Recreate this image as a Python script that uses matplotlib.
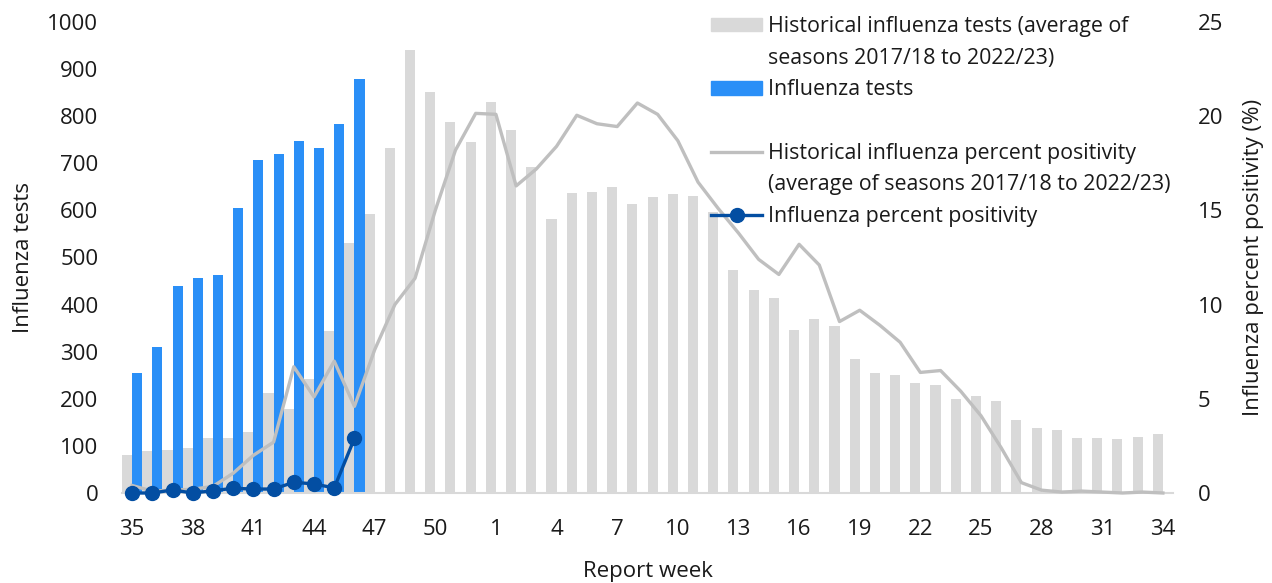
import numpy as np
import matplotlib
matplotlib.use("Agg")
import matplotlib.pyplot as plt
from matplotlib.patches import Patch
from matplotlib.lines import Line2D

plt.rcParams['font.family'] = ['Open Sans', 'DejaVu Sans']
plt.rcParams['font.size'] = 16
plt.rcParams['text.color'] = '#1a1a1a'
plt.rcParams['axes.labelcolor'] = '#1a1a1a'
plt.rcParams['xtick.color'] = '#1a1a1a'
plt.rcParams['ytick.color'] = '#1a1a1a'

# report weeks 35..52 then 1..34
weeks = list(range(35, 53)) + list(range(1, 35))

hist_tests = [80, 90, 92, 96, 117, 116, 130, 212, 178, 243, 344, 531,
              592, 733, 940, 852, 788, 746, 831, 770, 693, 581, 637, 639,
              650, 614, 629, 635, 631, 597, 473, 430, 415, 346, 369, 355,
              284, 255, 250, 234, 229, 199, 207, 195, 155, 139, 134, 117,
              117, 115, 119, 125]

cur_tests = [254, 311, 439, 456, 462, 606, 706, 720, 747, 732, 783, 878]

hist_pos = [0.4, 0.1, 0.15, 0.2, 0.35, 1.05, 2.0, 2.7, 6.7, 5.1, 7.0, 4.6,
            7.6, 10.0, 11.4, 15.0, 18.2, 20.15, 20.1, 16.3, 17.2, 18.4, 20.05, 19.6,
            19.45, 20.7, 20.1, 18.7, 16.5, 15.1, 13.8, 12.4, 11.6, 13.2, 12.1, 9.1,
            9.7, 8.9, 8.0, 6.4, 6.5, 5.4, 4.1, 2.4, 0.55, 0.15,
            0.05, 0.1, 0.05, 0.0, 0.05, 0.0]

cur_pos = [0.0, 0.0, 0.16, 0.0, 0.12, 0.25, 0.21, 0.21, 0.57, 0.48, 0.27, 2.9]

GREY_BAR = '#d9d9d9'
BLUE_BAR = '#2a8ff7'
GREY_LINE = '#bfbfbf'
DARK_BLUE = '#034ea2'

x = np.arange(len(weeks))
xc = np.arange(len(cur_tests))

fig = plt.figure(figsize=(12.72, 5.83), dpi=100)
ax = fig.add_axes([122 / 1272, 1 - 493 / 583, 1051 / 1272, 471 / 583])

ax.bar(x - 0.25, hist_tests, width=0.5, color=GREY_BAR, zorder=2)
ax.bar(xc + 0.25, cur_tests, width=0.5, color=BLUE_BAR, zorder=2)

ax.set_xlim(-0.5, len(weeks) - 0.5)
ax.set_ylim(0, 1000)
ax.set_yticks(range(0, 1001, 100))
ax.set_xticks(x[::3])
ax.set_xticklabels([str(w) for w in weeks[::3]])
ax.tick_params(axis='both', length=0)
ax.tick_params(axis='y', pad=17)
ax.tick_params(axis='x', pad=19)
for s in ['top', 'left', 'right']:
    ax.spines[s].set_visible(False)
ax.spines['bottom'].set_color(GREY_BAR)
ax.spines['bottom'].set_linewidth(1.5)
ax.set_ylabel('Influenza tests', labelpad=10)
ax.set_xlabel('Report week', labelpad=15)

ax2 = ax.twinx()
ax2.plot(x, hist_pos, color=GREY_LINE, lw=2.4, zorder=3, clip_on=False)
ax2.plot(xc, cur_pos, color=DARK_BLUE, lw=2.4, marker='o', markersize=10,
         zorder=4, clip_on=False)
ax2.set_ylim(0, 25)
ax2.set_yticks(range(0, 26, 5))
ax2.tick_params(axis='y', length=0, pad=18)
for s in ['top', 'left', 'right', 'bottom']:
    ax2.spines[s].set_visible(False)
ax2.set_ylabel('Influenza percent positivity (%)', labelpad=14)

# one legend row per text line so handles sit on the first line
blank = Line2D([], [], color='none')
handles = [
    Patch(color=GREY_BAR), blank,
    Patch(color=BLUE_BAR),
    blank,
    Line2D([], [], color=GREY_LINE, lw=2.4), blank,
    Line2D([], [], color=DARK_BLUE, lw=2.4, marker='o', markersize=10),
]
labels = [
    'Historical influenza tests (average of', 'seasons 2017/18 to 2022/23)',
    'Influenza tests',
    ' ',
    'Historical influenza percent positivity', '(average of seasons 2017/18 to 2022/23)',
    'Influenza percent positivity',
]
leg = ax2.legend(handles, labels, loc='upper left',
                 bbox_to_anchor=(711 / 1272, 1 - 16 / 583),
                 bbox_transform=fig.transFigure, frameon=False,
                 borderpad=0, borderaxespad=0, handlelength=2.4,
                 handleheight=0.6, handletextpad=0.25, labelspacing=0.5,
                 fontsize=15.4)

fig.savefig('out.png', dpi=100)
